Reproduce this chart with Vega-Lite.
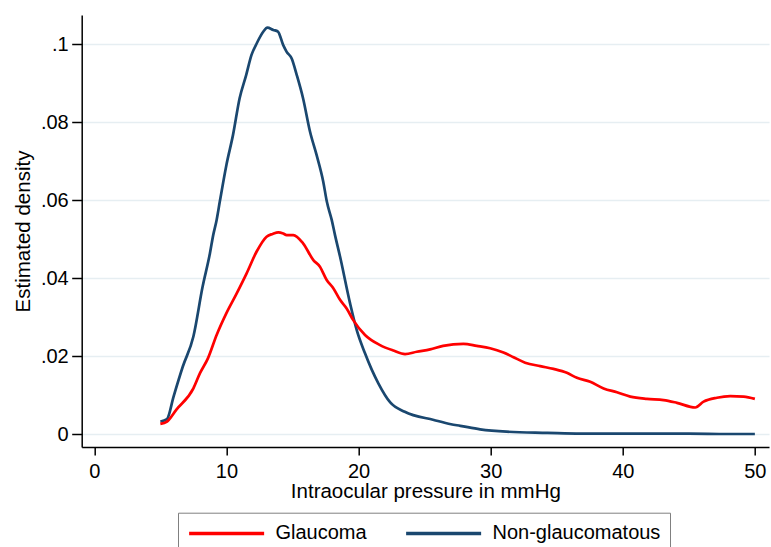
{
  "$schema": "https://vega.github.io/schema/vega-lite/v6.json",
  "autosize": {"type": "none"},
  "padding": {"left": 81.7, "top": 15, "right": 2, "bottom": 100},
  "width": 687.3,
  "height": 432,
  "background": "white",
  "config": {
    "view": {"stroke": null},
    "font": "Liberation Sans"
  },
  "data": {
    "values": [
      {"iop": 5.0, "density": 0.0032, "group": "Non-glaucomatous"},
      {"iop": 5.5, "density": 0.0038, "group": "Non-glaucomatous"},
      {"iop": 6.0, "density": 0.0096, "group": "Non-glaucomatous"},
      {"iop": 6.7, "density": 0.0173, "group": "Non-glaucomatous"},
      {"iop": 7.5, "density": 0.025, "group": "Non-glaucomatous"},
      {"iop": 8.2, "density": 0.0378, "group": "Non-glaucomatous"},
      {"iop": 8.75, "density": 0.0463, "group": "Non-glaucomatous"},
      {"iop": 9.0, "density": 0.051, "group": "Non-glaucomatous"},
      {"iop": 9.26, "density": 0.0549, "group": "Non-glaucomatous"},
      {"iop": 9.5, "density": 0.0596, "group": "Non-glaucomatous"},
      {"iop": 10.0, "density": 0.069, "group": "Non-glaucomatous"},
      {"iop": 10.5, "density": 0.0767, "group": "Non-glaucomatous"},
      {"iop": 11.0, "density": 0.0861, "group": "Non-glaucomatous"},
      {"iop": 11.5, "density": 0.0921, "group": "Non-glaucomatous"},
      {"iop": 11.9, "density": 0.0972, "group": "Non-glaucomatous"},
      {"iop": 12.3, "density": 0.1002, "group": "Non-glaucomatous"},
      {"iop": 12.8, "density": 0.1032, "group": "Non-glaucomatous"},
      {"iop": 13.1, "density": 0.1042, "group": "Non-glaucomatous"},
      {"iop": 13.55, "density": 0.1036, "group": "Non-glaucomatous"},
      {"iop": 13.9, "density": 0.1032, "group": "Non-glaucomatous"},
      {"iop": 14.3, "density": 0.0997, "group": "Non-glaucomatous"},
      {"iop": 14.56, "density": 0.098, "group": "Non-glaucomatous"},
      {"iop": 14.94, "density": 0.0963, "group": "Non-glaucomatous"},
      {"iop": 15.32, "density": 0.0921, "group": "Non-glaucomatous"},
      {"iop": 15.8, "density": 0.0861, "group": "Non-glaucomatous"},
      {"iop": 16.33, "density": 0.0775, "group": "Non-glaucomatous"},
      {"iop": 16.83, "density": 0.0715, "group": "Non-glaucomatous"},
      {"iop": 17.33, "density": 0.0647, "group": "Non-glaucomatous"},
      {"iop": 17.6, "density": 0.0596, "group": "Non-glaucomatous"},
      {"iop": 17.97, "density": 0.0549, "group": "Non-glaucomatous"},
      {"iop": 18.22, "density": 0.051, "group": "Non-glaucomatous"},
      {"iop": 18.6, "density": 0.0455, "group": "Non-glaucomatous"},
      {"iop": 19.36, "density": 0.0335, "group": "Non-glaucomatous"},
      {"iop": 19.86, "density": 0.0267, "group": "Non-glaucomatous"},
      {"iop": 20.49, "density": 0.0207, "group": "Non-glaucomatous"},
      {"iop": 21.0, "density": 0.0165, "group": "Non-glaucomatous"},
      {"iop": 21.5, "density": 0.013, "group": "Non-glaucomatous"},
      {"iop": 22.4, "density": 0.0081, "group": "Non-glaucomatous"},
      {"iop": 23.5, "density": 0.0057, "group": "Non-glaucomatous"},
      {"iop": 25.7, "density": 0.0036, "group": "Non-glaucomatous"},
      {"iop": 27.0, "density": 0.0025, "group": "Non-glaucomatous"},
      {"iop": 27.7, "density": 0.0021, "group": "Non-glaucomatous"},
      {"iop": 29.2, "density": 0.0012, "group": "Non-glaucomatous"},
      {"iop": 31.2, "density": 0.0006, "group": "Non-glaucomatous"},
      {"iop": 34.3, "density": 0.0003, "group": "Non-glaucomatous"},
      {"iop": 36.8, "density": 0.0001, "group": "Non-glaucomatous"},
      {"iop": 40.0, "density": 0.0001, "group": "Non-glaucomatous"},
      {"iop": 45.0, "density": 0.0001, "group": "Non-glaucomatous"},
      {"iop": 47.9, "density": 0.0, "group": "Non-glaucomatous"},
      {"iop": 50.0, "density": 0.0, "group": "Non-glaucomatous"},
      {"iop": 5.0, "density": 0.0026, "group": "Glaucoma"},
      {"iop": 5.5, "density": 0.0032, "group": "Glaucoma"},
      {"iop": 6.2, "density": 0.0062, "group": "Glaucoma"},
      {"iop": 7.5, "density": 0.0117, "group": "Glaucoma"},
      {"iop": 8.0, "density": 0.0156, "group": "Glaucoma"},
      {"iop": 8.6, "density": 0.0194, "group": "Glaucoma"},
      {"iop": 9.26, "density": 0.0254, "group": "Glaucoma"},
      {"iop": 10.0, "density": 0.031, "group": "Glaucoma"},
      {"iop": 10.77, "density": 0.036, "group": "Glaucoma"},
      {"iop": 11.53, "density": 0.0412, "group": "Glaucoma"},
      {"iop": 12.29, "density": 0.0468, "group": "Glaucoma"},
      {"iop": 13.04, "density": 0.0506, "group": "Glaucoma"},
      {"iop": 13.5, "density": 0.0513, "group": "Glaucoma"},
      {"iop": 13.93, "density": 0.0517, "group": "Glaucoma"},
      {"iop": 14.3, "density": 0.0514, "group": "Glaucoma"},
      {"iop": 14.56, "density": 0.051, "group": "Glaucoma"},
      {"iop": 15.06, "density": 0.051, "group": "Glaucoma"},
      {"iop": 15.8, "density": 0.0489, "group": "Glaucoma"},
      {"iop": 16.58, "density": 0.0446, "group": "Glaucoma"},
      {"iop": 17.08, "density": 0.0429, "group": "Glaucoma"},
      {"iop": 17.59, "density": 0.0395, "group": "Glaucoma"},
      {"iop": 18.09, "density": 0.0374, "group": "Glaucoma"},
      {"iop": 18.6, "density": 0.0344, "group": "Glaucoma"},
      {"iop": 19.1, "density": 0.0322, "group": "Glaucoma"},
      {"iop": 19.6, "density": 0.0292, "group": "Glaucoma"},
      {"iop": 20.49, "density": 0.0254, "group": "Glaucoma"},
      {"iop": 21.63, "density": 0.0228, "group": "Glaucoma"},
      {"iop": 22.64, "density": 0.0214, "group": "Glaucoma"},
      {"iop": 23.52, "density": 0.0205, "group": "Glaucoma"},
      {"iop": 24.41, "density": 0.0211, "group": "Glaucoma"},
      {"iop": 25.42, "density": 0.0217, "group": "Glaucoma"},
      {"iop": 26.4, "density": 0.0226, "group": "Glaucoma"},
      {"iop": 27.94, "density": 0.0231, "group": "Glaucoma"},
      {"iop": 28.95, "density": 0.0226, "group": "Glaucoma"},
      {"iop": 29.96, "density": 0.022, "group": "Glaucoma"},
      {"iop": 30.97, "density": 0.0209, "group": "Glaucoma"},
      {"iop": 31.73, "density": 0.0197, "group": "Glaucoma"},
      {"iop": 32.61, "density": 0.0183, "group": "Glaucoma"},
      {"iop": 33.75, "density": 0.0174, "group": "Glaucoma"},
      {"iop": 34.76, "density": 0.0167, "group": "Glaucoma"},
      {"iop": 35.77, "density": 0.0157, "group": "Glaucoma"},
      {"iop": 36.53, "density": 0.0144, "group": "Glaucoma"},
      {"iop": 37.54, "density": 0.0134, "group": "Glaucoma"},
      {"iop": 38.55, "density": 0.0117, "group": "Glaucoma"},
      {"iop": 39.56, "density": 0.0107, "group": "Glaucoma"},
      {"iop": 40.57, "density": 0.0096, "group": "Glaucoma"},
      {"iop": 41.83, "density": 0.009, "group": "Glaucoma"},
      {"iop": 43.09, "density": 0.0087, "group": "Glaucoma"},
      {"iop": 44.1, "density": 0.008, "group": "Glaucoma"},
      {"iop": 45.49, "density": 0.0068, "group": "Glaucoma"},
      {"iop": 46.12, "density": 0.0083, "group": "Glaucoma"},
      {"iop": 47.13, "density": 0.0093, "group": "Glaucoma"},
      {"iop": 48.14, "density": 0.0097, "group": "Glaucoma"},
      {"iop": 49.15, "density": 0.0096, "group": "Glaucoma"},
      {"iop": 50.0, "density": 0.009, "group": "Glaucoma"}
    ]
  },
  "mark": {"type": "line", "strokeWidth": 2.7, "interpolate": "monotone"},
  "encoding": {
    "x": {
      "field": "iop",
      "type": "quantitative",
      "scale": {"domain": [-0.954, 51.07], "nice": false, "zero": false},
      "axis": {
        "title": "Intraocular pressure in mmHg",
        "values": [0, 10, 20, 30, 40, 50],
        "format": "d",
        "grid": false,
        "domainColor": "#000000",
        "domainWidth": 1.5,
        "tickColor": "#000000",
        "tickWidth": 1.5,
        "tickSize": 8,
        "labelPadding": 6.5,
        "labelFontSize": 20,
        "labelColor": "#000000",
        "labelFont": "Liberation Sans",
        "titleFont": "Liberation Sans",
        "titleFontSize": 20.5,
        "titleFontWeight": "normal",
        "titleColor": "#000000",
        "titleBaseline": "alphabetic",
        "titleY": 50.7
      }
    },
    "y": {
      "field": "density",
      "type": "quantitative",
      "scale": {"domain": [-0.00333, 0.10744], "nice": false, "zero": false},
      "axis": {
        "title": "Estimated density",
        "values": [0, 0.02, 0.04, 0.06, 0.08, 0.1],
        "labelExpr": "datum.value == 0 ? '0' : replace(format(datum.value, '.2~f'), '0.', '.')",
        "grid": true,
        "gridColor": "#e6eef2",
        "gridWidth": 1.6,
        "domainColor": "#000000",
        "domainWidth": 1.5,
        "tickColor": "#000000",
        "tickWidth": 1.5,
        "tickSize": 10,
        "labelPadding": 3.5,
        "labelFontSize": 20,
        "labelColor": "#000000",
        "labelFont": "Liberation Sans",
        "titleFont": "Liberation Sans",
        "titleFontSize": 20.5,
        "titleFontWeight": "normal",
        "titleColor": "#000000",
        "titleBaseline": "alphabetic",
        "titleX": -51.7
      }
    },
    "color": {
      "field": "group",
      "type": "nominal",
      "scale": {"domain": ["Glaucoma", "Non-glaucomatous"], "range": ["#ff0000", "#1a476f"]},
      "legend": {
        "title": null,
        "orient": "none",
        "legendX": 96.3,
        "legendY": 497.7,
        "direction": "horizontal",
        "symbolType": "M-1,0H7",
        "symbolSize": 351.56,
        "symbolStrokeWidth": 3.5,
        "labelFontSize": 20,
        "labelFont": "Liberation Sans",
        "labelColor": "#000000",
        "labelOffset": 65.5,
        "columnPadding": 32,
        "padding": 9,
        "strokeColor": "#808080",
        "fillColor": "#ffffff",
        "labelLimit": 400
      }
    },
    "order": {"field": "iop", "type": "quantitative"}
  }
}
